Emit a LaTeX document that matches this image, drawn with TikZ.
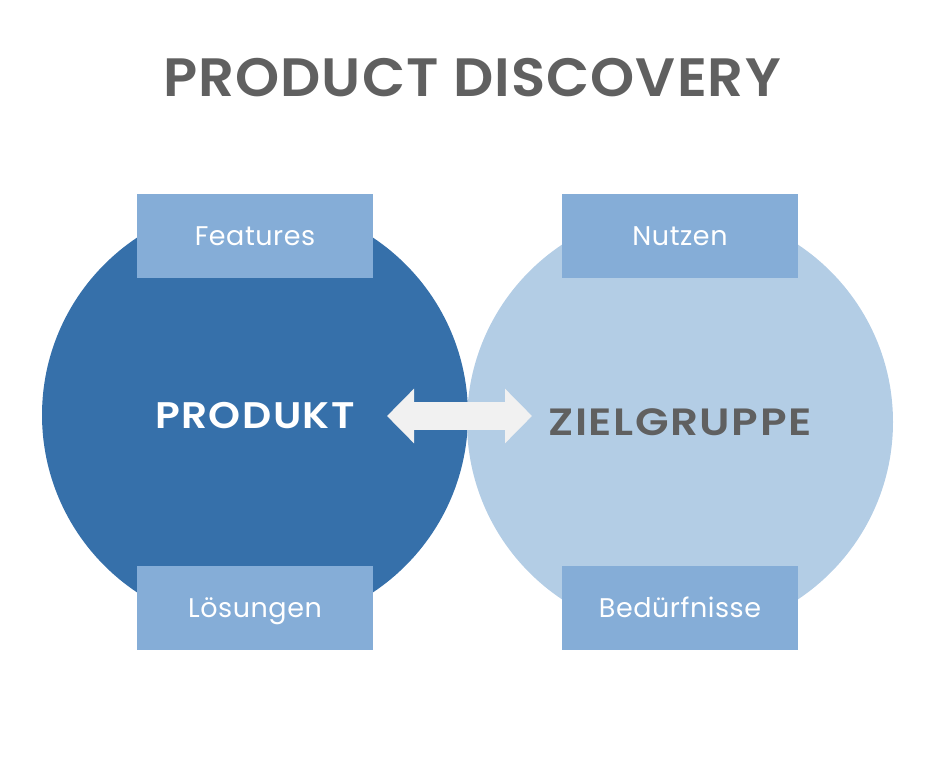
\documentclass[tikz,border=0pt]{standalone}
\usepackage{fontspec}
\setmainfont{Poppins}
\newfontfamily\titlefont{Poppins SemiBold}[FakeStretch=1.04,LetterSpace=2]
\newfontfamily\produktfont{Poppins SemiBold}[FakeStretch=1.1,LetterSpace=4]
\newfontfamily\zielfont{Poppins SemiBold}[FakeStretch=1.15,LetterSpace=4]
\newfontfamily\boxfont{Poppins}[LetterSpace=2]
\usetikzlibrary{arrows.meta}
\definecolor{darkblue}{HTML}{3670AA}
\definecolor{lightblue}{HTML}{B3CDE5}
\definecolor{boxblue}{HTML}{85ADD7}
\definecolor{titlegray}{HTML}{606060}
\definecolor{arrowgray}{HTML}{F1F1F1}
\tikzset{
    bigcircle/.style={
        circle,
        minimum size=426pt,
        inner sep=0pt,
        text depth=0pt
    },
    labelbox/.style={
        rectangle,
        fill=boxblue,
        minimum width=236pt,
        minimum height=84pt,
        inner sep=0pt,
        text=white,
        text height=19pt,
        text depth=0pt,
        font=\boxfont\fontsize{27}{30}\selectfont
    },
    twoway/.style={
        line width=28pt,
        draw=arrowgray,
        {Triangle[length=27pt,width=53pt]}-{Triangle[length=27pt,width=53pt]}
    }
}
\begin{document}
\begin{tikzpicture}[x=1pt,y=-1pt]
    \useasboundingbox (0,0) rectangle (938,779);
    \node[titlegray, text height=38pt, text depth=0pt, font=\titlefont\fontsize{54}{60}\selectfont] (title) at (472,77) {PRODUCT DISCOVERY};
    \node[bigcircle, fill=darkblue, text=white, text height=26pt, font=\produktfont\fontsize{37}{42}\selectfont] (produkt) at (255,415) {PRODUKT};
    \node[bigcircle, fill=lightblue, text=titlegray, text height=27pt, font=\zielfont\fontsize{38}{42}\selectfont] (zielgruppe) at (680,422) {ZIELGRUPPE};
    \node[labelbox] (features) at (255,236) {Features};
    \node[labelbox] (nutzen) at (680,236) {Nutzen};
    \node[labelbox] (loesungen) at (255,608) {Lösungen};
    \node[labelbox] (beduerfnisse) at (680,608) {Bedürfnisse};
    \coordinate (left tip) at (387,416);
    \coordinate (right tip) at (532,416);
    \draw[twoway] (left tip) -- (right tip);
\end{tikzpicture}
\end{document}
